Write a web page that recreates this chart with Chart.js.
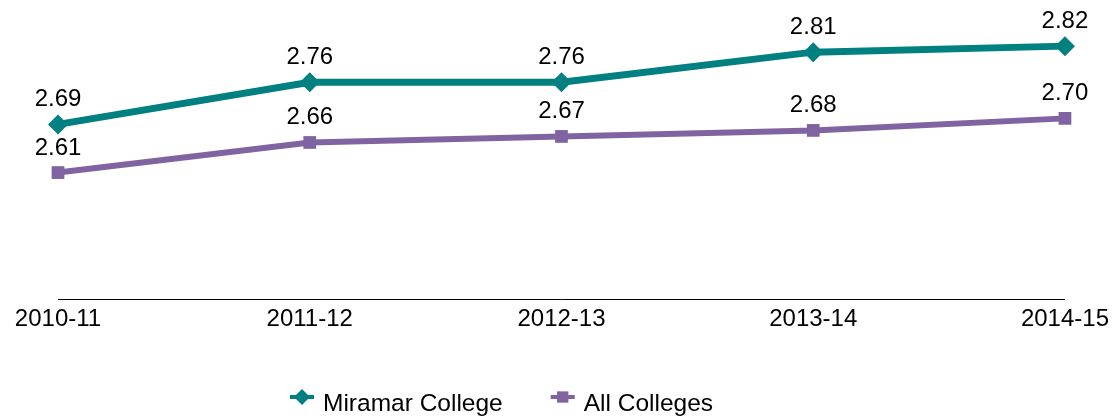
<!DOCTYPE html>
<html>
<head>
<meta charset="utf-8">
<script src="https://cdn.jsdelivr.net/npm/chart.js@4/dist/chart.umd.min.js"></script>
<style>
  html, body { margin: 0; padding: 0; background: #fff; }
  #wrap { width: 1115px; height: 419px; }
</style>
</head>
<body>
<div id="wrap"><canvas id="myChart"></canvas></div>
<script>
'use strict'

// data
const years = ['2010-11', '2011-12', '2012-13', '2013-14', '2014-15'];
const miramar = [2.69, 2.76, 2.76, 2.81, 2.82];
const allColleges = [2.61, 2.66, 2.67, 2.68, 2.70];

const teal = '#008080';
const purple = '#8064A2';
const font = { family: 'Liberation Sans, Arial, sans-serif', size: 24 };

// labels above every point
const valueLabels = {
    id: 'valueLabels',
    afterDatasetsDraw(chart) {
        const ctx = chart.ctx;
        ctx.save();
        ctx.font = font.size + 'px ' + font.family;
        ctx.fillStyle = '#000';
        ctx.textAlign = 'center';
        ctx.textBaseline = 'alphabetic';
        chart.data.datasets.forEach((ds, i) => {
            chart.getDatasetMeta(i).data.forEach((pt, j) => {
                ctx.fillText(ds.data[j].toFixed(2), pt.x, pt.y - 18);
            });
        });
        ctx.restore();
    }
};

// legend with line + marker swatch, like the original
const lineLegend = {
    id: 'lineLegend',
    afterDraw(chart) {
        const ctx = chart.ctx;
        ctx.save();
        ctx.font = '24.5px ' + font.family;
        const items = chart.data.datasets.map(ds => ({
            ds: ds,
            w: 33 + ctx.measureText(ds.label).width
        }));
        const gap = 48;
        let total = items.reduce((s, it) => s + it.w, 0) + gap * (items.length - 1);
        let x = 290;
        const y = 397;
        items.forEach(it => {
            const ds = it.ds;
            ctx.strokeStyle = ds.borderColor;
            ctx.lineWidth = 4;
            ctx.beginPath();
            ctx.moveTo(x, y);
            ctx.lineTo(x + 24, y);
            ctx.stroke();
            ctx.fillStyle = ds.borderColor;
            Chart.helpers.drawPoint(ctx, {
                pointStyle: ds.pointStyle,
                radius: 8,
                borderWidth: 0
            }, x + 12, y);
            ctx.fillStyle = '#000';
            ctx.textAlign = 'left';
            ctx.textBaseline = 'middle';
            ctx.fillText(ds.label, x + 33, y + 7);
            x += it.w + gap;
        });
        ctx.restore();
    }
};

const ctx = document.getElementById('myChart').getContext('2d');

Chart.defaults.font.family = font.family;
Chart.defaults.font.size = font.size;
Chart.defaults.color = '#000';

const chart = new Chart(ctx, {
    type: 'line',
    data: {
        labels: years,
        datasets: [{
            label: 'Miramar College',
            data: miramar,
            borderColor: teal,
            backgroundColor: teal,
            borderWidth: 7,
            pointStyle: 'rectRot',
            pointRadius: 10,
            pointBorderWidth: 0,
            pointBackgroundColor: teal,
            tension: 0,
            clip: false
        }, {
            label: 'All Colleges',
            data: allColleges,
            borderColor: purple,
            backgroundColor: purple,
            borderWidth: 6,
            pointStyle: 'rect',
            pointRadius: 9,
            pointBorderWidth: 0,
            pointBackgroundColor: purple,
            tension: 0,
            clip: false
        }]
    },
    options: {
        responsive: true,
        maintainAspectRatio: false,
        animation: false,
        layout: { padding: { left: 58, right: 48, top: 0, bottom: 0 } },
        plugins: {
            legend: { display: false },
            tooltip: { enabled: false }
        },
        scales: {
            x: {
                offset: false,
                grid: { display: false, drawTicks: false },
                border: { display: true, color: '#000', width: 1 },
                ticks: { padding: 6, maxRotation: 0, autoSkip: false },
                afterFit(axis) { axis.height = 120; }
            },
            y: {
                display: false,
                min: 2.4,
                max: 2.88
            }
        }
    },
    plugins: [valueLabels, lineLegend]
});
</script>
</body>
</html>
